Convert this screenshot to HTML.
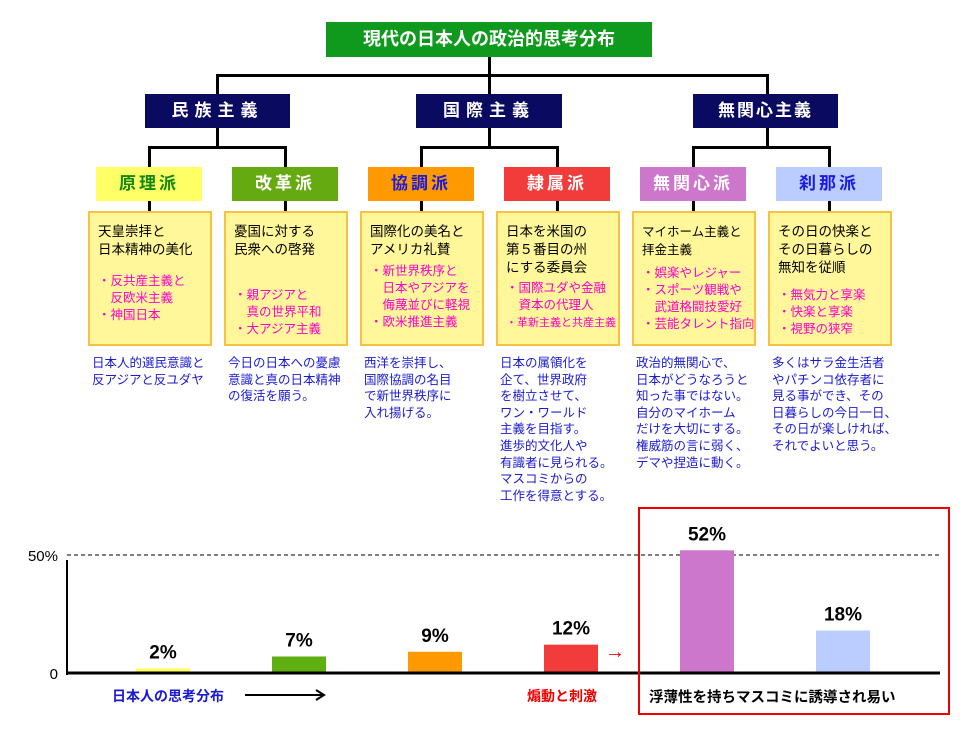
<!DOCTYPE html>
<html><head><meta charset="utf-8">
<style>
body{margin:0;background:#fff;width:978px;height:737px;position:relative;overflow:hidden;font-family:"Liberation Sans","Noto Sans CJK JP",sans-serif}
.a{position:absolute;box-sizing:border-box}
.ln{position:absolute;background:#000}
.lv2{background:#0a0a60;color:#fff;font-weight:bold;font-size:17px;text-align:center;line-height:34px;letter-spacing:6px}
.lv3{font-weight:bold;font-size:17px;text-align:center;line-height:34px;letter-spacing:3px}
.card{background:#fff799;border:2px solid #f5c242;padding:10px 2px 0 8px;font-size:13.5px;line-height:18px;color:#000;width:124px;height:135px;white-space:nowrap;overflow:hidden}
.card .p{color:#ff00cc;font-size:12.5px;line-height:17px;margin-top:10px}
.desc{color:#1a1ad0;font-size:12.5px;line-height:16.6px;width:134px;white-space:nowrap}
</style></head><body>
<div class="a" style="left:326px;top:22px;width:326px;height:35px;background:#0f9a1e;color:#fff;font-weight:bold;font-size:18px;text-align:center;line-height:35px">現代の日本人の政治的思考分布</div>
<div class="ln" style="left:488px;top:57px;width:3px;height:37px"></div>
<div class="ln" style="left:216px;top:74px;width:553px;height:3px"></div>
<div class="ln" style="left:216px;top:74px;width:3px;height:20px"></div>
<div class="ln" style="left:766px;top:74px;width:3px;height:20px"></div>
<div class="a lv2" style="left:145px;top:94px;width:145px;height:34px">民族主義</div>
<div class="a lv2" style="left:416px;top:94px;width:146px;height:34px">国際主義</div>
<div class="a lv2" style="left:693px;top:94px;width:145px;height:34px;letter-spacing:2px">無関心主義</div>
<div class="ln" style="left:216px;top:128px;width:3px;height:20px"></div>
<div class="ln" style="left:488px;top:128px;width:3px;height:20px"></div>
<div class="ln" style="left:766px;top:128px;width:3px;height:20px"></div>
<div class="ln" style="left:148px;top:146px;width:139px;height:3px"></div>
<div class="ln" style="left:420px;top:146px;width:139px;height:3px"></div>
<div class="ln" style="left:692px;top:146px;width:139px;height:3px"></div>
<div id="cols"></div>
<svg id="chart" width="978" height="737" style="position:absolute;left:0;top:0" xmlns="http://www.w3.org/2000/svg"></svg>
<script>
const factions=["原理派","改革派","協調派","隷属派","無関心派","刹那派"];
const values=[2,7,9,12,52,18];
const valueLabels=["2%","7%","9%","12%","52%","18%"];
const tickValues=[0,50];
const tickLabels=["0","50%"];
const barColors=["#ffff66","#5fae12","#ff9900","#f23c3c","#cc77cc","#bbccff"];
const headColors=["#ffff66","#66aa11","#ff9900","#f23c3c","#cc77cc","#bbccff"];
const headText=["#118811","#ffffff","#1a1ae0","#ffffff","#ffffff","#1a1ae0"];
const cardMain=[["天皇崇拝と","日本精神の美化"],["憂国に対する","民衆への啓発"],["国際化の美名と","アメリカ礼賛"],["日本を米国の","第５番目の州","にする委員会"],["マイホーム主義と","拝金主義"],["その日の快楽と","その日暮らしの","無知を従順"]];
const cardPink=[["・反共産主義と","　反欧米主義","・神国日本"],["・親アジアと","　真の世界平和","・大アジア主義"],["・新世界秩序と","　日本やアジアを","　侮蔑並びに軽視","・欧米推進主義"],["・国際ユダや金融","　資本の代理人","<span style=\"font-size:11px\">・革新主義と共産主義</span>"],["・娯楽やレジャー","・スポーツ観戦や","　武道格闘技愛好","・芸能タレント指向"],["・無気力と享楽","・快楽と享楽","・視野の狭窄"]];
const pinkTop=[14,28,4,3,6,10];
const descs=[["日本人的選民意識と","反アジアと反ユダヤ"],["今日の日本への憂慮","意識と真の日本精神","の復活を願う。"],["西洋を崇拝し、","国際協調の名目","で新世界秩序に","入れ揚げる。"],["日本の属領化を","企て、世界政府","を樹立させて、","ワン・ワールド","主義を目指す。","進歩的文化人や","有識者に見られる。","マスコミからの","工作を得意とする。"],["政治的無関心で、","日本がどうなろうと","知った事ではない。","自分のマイホーム","だけを大切にする。","権威筋の言に弱く、","デマや捏造に動く。"],["多くはサラ金生活者","やパチンコ依存者に","見る事ができ、その","日暮らしの今日一日、","その日が楽しければ、","それでよいと思う。"]];
const cols=document.getElementById('cols');
const colX=i=>88+i*136;
factions.forEach((f,i)=>{
  const x=colX(i);
  const v=document.createElement('div');v.className='ln';
  v.style.cssText=`left:${x+60}px;top:146px;width:3px;height:68px`;
  cols.appendChild(v);
  const h=document.createElement('div');h.className='a lv3';
  
  
  h.style.cssText=`left:${x+8}px;top:167px;width:106px;height:34px;background:${headColors[i]};color:${headText[i]}`;
  h.textContent=f;cols.appendChild(h);
  const c=document.createElement('div');c.className='a card';
  
  
  c.style.left=x+'px';c.style.top='211px';
  if(i===4)c.style.fontSize='12.5px';
  c.innerHTML=cardMain[i].join('<br>')+'<div class="p" style="margin-top:'+pinkTop[i]+'px">'+cardPink[i].join('<br>')+'</div>';
  cols.appendChild(c);
  const d=document.createElement('div');d.className='a desc';
  
  
  d.style.left=(x+4)+'px';d.style.top='355px';
  d.innerHTML=descs[i].join('<br>');cols.appendChild(d);
});
const svg=document.getElementById('chart');const NS='http://www.w3.org/2000/svg';
const base=673,pxPer=118/50,x0=67,x1=940;
const y=v=>base-v*pxPer;const xc=i=>163+i*136;
function mk(t,a){const e=document.createElementNS(NS,t);for(const k in a)e.setAttribute(k,a[k]);svg.appendChild(e);return e;}
tickValues.forEach((t,i)=>{
  if(t>0){const l=mk('line',{x1:x0,x2:x1,y1:y(t),y2:y(t),stroke:'#000','stroke-dasharray':'4,3','stroke-width':1});
  
  }
  const tx=mk('text',{x:58,y:y(t)+6,'text-anchor':'end','font-size':15,fill:'#000'});
  
  
  tx.textContent=tickLabels[i];
});
values.forEach((v,i)=>{
  const r=mk('rect',{x:xc(i)-27,y:y(v),width:54,height:v*pxPer,fill:barColors[i]});
  
  
  const t=mk('text',{x:xc(i),y:y(v)-10,'text-anchor':'middle','font-size':19,'font-weight':'bold',fill:'#000'});
  
  
  t.textContent=valueLabels[i];
});
mk('line',{x1:x0,x2:x0,y1:560,y2:675,stroke:'#000','stroke-width':2});
const ax=mk('line',{x1:x0,x2:x1,y1:base,y2:base,stroke:'#000','stroke-width':3});


const box=mk('rect',{x:639,y:508,width:310,height:206,fill:'none',stroke:'#e00',"stroke-width":2});


const arr=mk('line',{x1:245,x2:322,y1:695,y2:695,stroke:'#000','stroke-width':2});


const ah=mk('path',{d:'M316,690 L324,695 L316,700',fill:'none',stroke:'#000','stroke-width':2});


</script>
<div class="a" style="left:112px;top:686px;color:#1a1ad0;font-weight:bold;font-size:14px">日本人の思考分布</div>
<div class="a" style="left:605px;top:641px;color:#e00;font-size:20px">→</div>
<div class="a" style="left:527px;top:686px;color:#e00;font-weight:bold;font-size:14px">煽動と刺激</div>
<div class="a" style="left:649px;top:686px;color:#000;font-weight:bold;font-size:14.5px">浮薄性を持ちマスコミに誘導され易い</div>
</body></html>
